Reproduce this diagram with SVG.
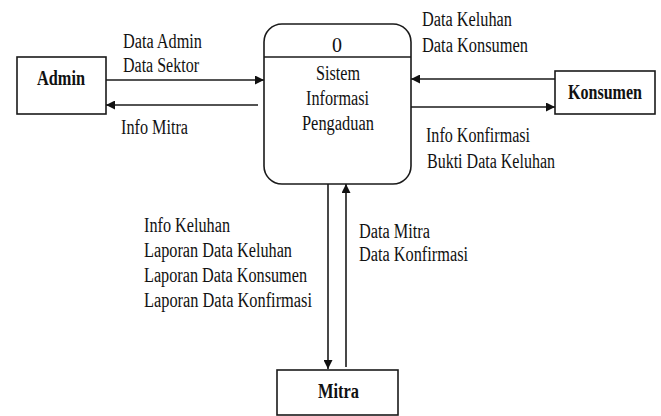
<svg xmlns="http://www.w3.org/2000/svg" width="661" height="416" viewBox="0 0 661 416">
<style>
.box{fill:#fff;stroke:#1a1a1a;stroke-width:1.6}
.ln{stroke:#1a1a1a;stroke-width:1.6;fill:none;marker-end:url(#ah)}
.t{font-family:'Liberation Serif','Times New Roman',serif;font-size:20px;fill:#111}
.b{font-weight:bold}
.c{text-anchor:middle}
</style>
<defs>
<marker id="ah" viewBox="0 0 10 10" refX="10" refY="5" markerWidth="9" markerHeight="9" markerUnits="userSpaceOnUse" orient="auto">
<path d="M0,0 L10,5 L0,10 z" fill="#111"/>
</marker>
</defs>
<rect width="661" height="416" fill="#fff"/>
<g id="connectors">
<line class="ln" x1="106" y1="80" x2="264" y2="80"/>
<line class="ln" x1="258" y1="105" x2="106" y2="105"/>
<line class="ln" x1="555" y1="79" x2="411" y2="79"/>
<line class="ln" x1="411" y1="107" x2="555" y2="107"/>
<line class="ln" x1="328" y1="184" x2="328" y2="369"/>
<line class="ln" x1="346" y1="367" x2="346" y2="184"/>
</g>
<g id="labels" class="t" font-family="Liberation Serif, serif">
<text x="123" y="48" textLength="79" lengthAdjust="spacingAndGlyphs">Data Admin</text>
<text x="123" y="72" textLength="76" lengthAdjust="spacingAndGlyphs">Data Sektor</text>
<text x="121" y="134" textLength="67" lengthAdjust="spacingAndGlyphs">Info Mitra</text>
<text x="422" y="26" textLength="90" lengthAdjust="spacingAndGlyphs">Data Keluhan</text>
<text x="422" y="52" textLength="106" lengthAdjust="spacingAndGlyphs">Data Konsumen</text>
<text x="426" y="142" textLength="104" lengthAdjust="spacingAndGlyphs">Info Konfirmasi</text>
<text x="427" y="168" textLength="128" lengthAdjust="spacingAndGlyphs">Bukti Data Keluhan</text>
<text x="144" y="232" textLength="86" lengthAdjust="spacingAndGlyphs">Info Keluhan</text>
<text x="144" y="257" textLength="148" lengthAdjust="spacingAndGlyphs">Laporan Data Keluhan</text>
<text x="144" y="282" textLength="163" lengthAdjust="spacingAndGlyphs">Laporan Data Konsumen</text>
<text x="144" y="307" textLength="168" lengthAdjust="spacingAndGlyphs">Laporan Data Konfirmasi</text>
<text x="359" y="238" textLength="71" lengthAdjust="spacingAndGlyphs">Data Mitra</text>
<text x="359" y="261" textLength="109" lengthAdjust="spacingAndGlyphs">Data Konfirmasi</text>
</g>
<g id="admin" class="t" font-family="Liberation Serif, serif">
<rect class="box" x="17" y="57" width="89" height="57"/>
<text class="b" x="37" y="85" textLength="48" lengthAdjust="spacingAndGlyphs">Admin</text>
</g>
<g id="process" class="t" font-family="Liberation Serif, serif">
<rect class="box" x="264" y="24" width="147" height="160" rx="18" ry="18"/>
<line x1="264" y1="57" x2="411" y2="57" stroke="#1a1a1a" stroke-width="1.6"/>
<text class="c" x="337" y="52">0</text>
<text x="316" y="80" textLength="44" lengthAdjust="spacingAndGlyphs">Sistem</text>
<text x="306" y="105" textLength="63" lengthAdjust="spacingAndGlyphs">Informasi</text>
<text x="302" y="130" textLength="72" lengthAdjust="spacingAndGlyphs">Pengaduan</text>
</g>
<g id="konsumen" class="t" font-family="Liberation Serif, serif">
<rect class="box" x="555" y="71" width="100" height="43"/>
<text class="b" x="568" y="99" textLength="74" lengthAdjust="spacingAndGlyphs">Konsumen</text>
</g>
<g id="mitra" class="t" font-family="Liberation Serif, serif">
<rect class="box" x="277" y="370" width="121" height="45"/>
<text class="b" x="318" y="398" textLength="41" lengthAdjust="spacingAndGlyphs">Mitra</text>
</g>
</svg>
